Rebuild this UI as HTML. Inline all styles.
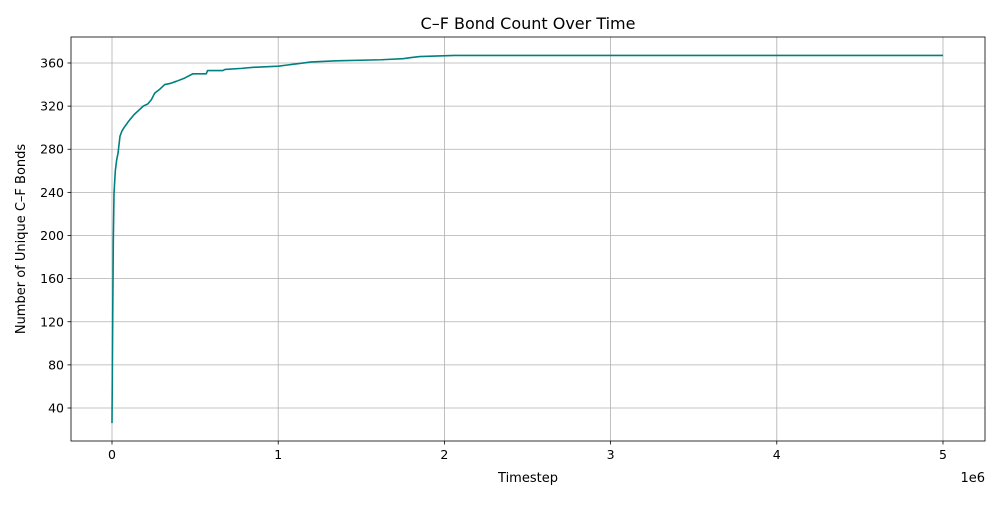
<!DOCTYPE html>
<html><head><meta charset="utf-8"><style>
body{margin:0;background:#fff;font-family:"Liberation Sans","DejaVu Sans",sans-serif;}
svg text{font-family:"DejaVu Sans","Liberation Sans",sans-serif;fill:#000;}
</style></head><body>
<svg id="chart" width="1000" height="500" viewBox="0 0 1000 500" xmlns="http://www.w3.org/2000/svg">
<rect width="1000" height="500" fill="#fff"/>
<g id="grid"></g>
<g id="series"></g>
<rect x="71" y="37" width="914" height="404" fill="none" stroke="#000" stroke-width="0.8"/>
<g id="axes"></g>
<text x="528" y="29" font-size="16" text-anchor="middle">C–F Bond Count Over Time</text>
<text x="528" y="482" font-size="13" text-anchor="middle">Timestep</text>
<text x="25" y="239" font-size="13" text-anchor="middle" transform="rotate(-90 25 239)">Number of Unique C–F Bonds</text>
<text x="985" y="482" font-size="13" text-anchor="end">1e6</text>
</svg>
<script>
const timesteps=[0,0.004,0.008,0.012,0.02,0.028,0.036,0.048,0.06,0.072,0.1,0.132,0.16,0.188,0.215,0.237,0.257,0.29,0.317,0.35,0.387,0.437,0.487,0.567,0.575,0.667,0.68,0.78,0.85,1.0,1.05,1.1,1.2,1.35,1.62,1.75,1.8,1.85,2.06,5.0];
const bondCounts=[26,120,196,239,260,270,276,292,297,300,306,312,316,320,322,326,332,336,340,341,343,346,350,350,353,353,354,355,356,357,358,359,361,362,363,364,365,366,367,367];
const xTicks=[0,1,2,3,4,5];
const yTicks=[40,80,120,160,200,240,280,320,360];
const xMin=-0.2467,xMax=5.2528,yMin=9.4,yMax=384.1;
const L=71,R=985,T=37,B=441;
const X=v=>L+(v-xMin)/(xMax-xMin)*(R-L);
const Y=v=>B-(v-yMin)/(yMax-yMin)*(B-T);
const NS="http://www.w3.org/2000/svg";
const grid=document.getElementById('grid'),axes=document.getElementById('axes'),series=document.getElementById('series');
function mk(tag,attrs,parent){const e=document.createElementNS(NS,tag);for(const k in attrs)e.setAttribute(k,attrs[k]);parent.appendChild(e);return e;}
xTicks.forEach(t=>{
  const x=X(t);
  const g=mk('line',{x1:x,x2:x,y1:T,y2:B,stroke:'#b0b0b0','stroke-width':0.8},grid);
  
  
  const tk=mk('line',{x1:x,x2:x,y1:B,y2:B+3.5,stroke:'#000','stroke-width':0.8},axes);
  
  
  const lb=mk('text',{x:x,y:B+18,'font-size':12.5,'text-anchor':'middle','font-family':'Liberation Sans, sans-serif'},axes);
  lb.textContent=t;
  
  
});
yTicks.forEach(t=>{
  const y=Y(t);
  const g=mk('line',{x1:L,x2:R,y1:y,y2:y,stroke:'#b0b0b0','stroke-width':0.8},grid);
  
  
  const tk=mk('line',{x1:L-3.5,x2:L,y1:y,y2:y,stroke:'#000','stroke-width':0.8},axes);
  
  
  const lb=mk('text',{x:L-7,y:y+4.5,'font-size':12.5,'text-anchor':'end','font-family':'Liberation Sans, sans-serif'},axes);
  lb.textContent=t;
  
  
});
const d=timesteps.map((t,i)=>(i?'L':'M')+X(t).toFixed(2)+' '+Y(bondCounts[i]).toFixed(2)).join(' ');
const p=mk('path',{d:d,fill:'none',stroke:'#008080','stroke-width':1.6,'stroke-linejoin':'round'},series);


</script>
</body></html>
